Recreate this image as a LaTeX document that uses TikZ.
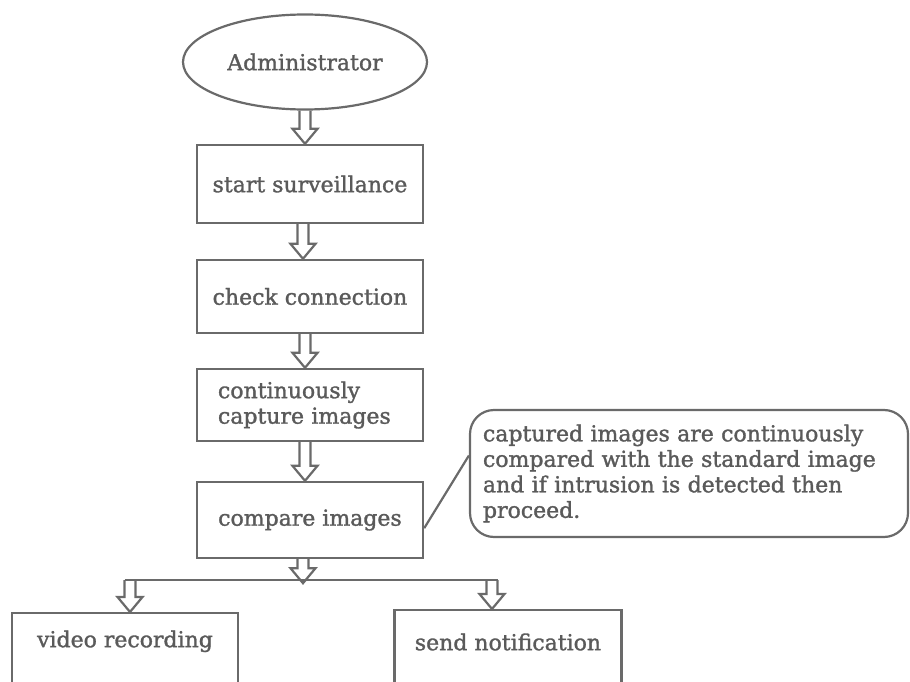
\documentclass[tikz,border=0pt]{standalone}
\usepackage{fontspec}
\setmainfont{DejaVu Serif}
\newfontfamily\diagfont{DejaVu Serif}[FakeBold=1.4]
\usetikzlibrary{positioning,calc,shapes.geometric}
\definecolor{linegray}{HTML}{6A6A6A}
\definecolor{txtgray}{HTML}{5A5A5A}
\newcommand\boxfont{\diagfont\fontsize{22}{25.5}\selectfont}
\tikzset{
  stepbox/.style={draw=linegray, line width=2.4pt, rectangle, inner sep=0pt,
    text=txtgray, font=\boxfont},
  hollow/.style={draw=linegray, line width=2.2pt, line join=miter, to path={
    let \p1=(\tikztostart), \p2=(\tikztotarget) in
    (\x1-5.5pt,\y1) -- (\x1-5.5pt,\y2+15pt) -- (\x1-12.5pt,\y2+15pt) -- (\x1,\y2)
    -- (\x1+12.5pt,\y2+15pt) -- (\x1+5.5pt,\y2+15pt) -- (\x1+5.5pt,\y1)}},
}

\begin{document}
\begin{tikzpicture}[x=1pt,y=-1pt]
	%% picture frame
	\useasboundingbox (0,0) rectangle (910,682);
	\clip (0,0) rectangle (910,682);

	\def\colx{310} % centre of the main column

	% the boxes of the main column
	\node[ellipse, draw=linegray, line width=2.2pt, minimum width=244pt, minimum height=95pt,
	      inner sep=0pt, text=txtgray, font=\boxfont] (admin) at (305,62) {Administrator};
	\node[stepbox, minimum width=226pt, minimum height=78pt] (start) at (\colx,184) {start surveillance};
	\node[stepbox, minimum width=226pt, minimum height=73pt] (check) at (\colx,296.5) {check connection};
	\node[stepbox, minimum width=226pt, minimum height=72pt, text width=184pt, align=left,
	      inner xsep=21pt] (capture) at (\colx,405) {continuously\\capture images};
	\node[stepbox, minimum width=226pt, minimum height=76pt] (compare) at (\colx,520) {compare images};

	% the two outcomes, cut off by the lower edge
	\node[stepbox, minimum width=226pt, text height=24pt, text depth=60pt, inner ysep=10pt,
	      anchor=north] (video) at (125,612) {video recording};
	\node[stepbox, minimum width=227pt, text height=30pt, text depth=60pt, inner ysep=10pt,
	      anchor=north] (notify) at (508,609) {send notification};

	% note on the comparison
	\node[draw=linegray, line width=2.2pt, rounded corners=24pt, minimum width=438pt,
	      minimum height=127pt, text width=412pt, align=left, text=txtgray, font=\boxfont,
	      inner xsep=13pt] (note) at (689,473.5)
	      {captured images are continuously\\compared with the standard image\\and if intrusion is detected then\\proceed.};
	\draw[linegray, line width=2.2pt] ([yshift=31pt]compare.south east) -- ([yshift=18pt]note.west);

	% hollow arrows
	\draw[hollow] (admin.south) to ([xshift=-7pt]start.north);
	\draw[hollow] ([xshift=-7pt]start.south) to ([xshift=-7pt]check.north);
	\draw[hollow] ([xshift=-5pt]check.south) to ([xshift=-5pt]capture.north);
	\draw[hollow] ([xshift=-5pt]capture.south) to ([xshift=-5pt]capture.south |- compare.north);

	% fork to the two outcomes
	\coordinate (fork) at ($(compare.south)+(-7,21)$);
	\coordinate (forkL) at (130,0 |- fork);
	\coordinate (forkR) at (492,0 |- fork);
	\draw[hollow] ([xshift=-7pt]compare.south) to ([yshift=-3pt]fork);
	\draw[linegray, line width=2.2pt] ([xshift=-5.5pt]forkL) -- ([xshift=5.5pt]forkR);
	\draw[hollow] (forkL) to (forkL |- video.north);
	\draw[hollow] (forkR) to (forkR |- notify.north);
\end{tikzpicture}
\end{document}
